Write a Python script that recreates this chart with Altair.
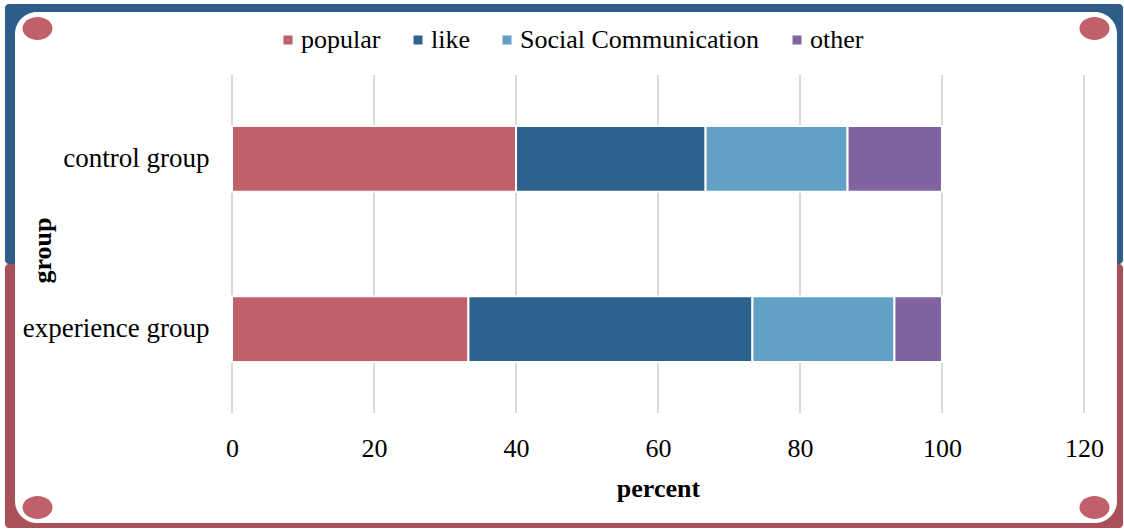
import altair as alt
import pandas as pd

groups = ["control group", "experience group"]
categories = ["popular", "like", "Social Communication", "other"]
colors = ["#C0606A", "#2E6390", "#62A0C5", "#8064A2"]
control_values = [40.0, 26.7, 20.0, 13.3]
experience_values = [33.3, 40.0, 20.0, 6.7]
x_ticks = [0, 20, 40, 60, 80, 100, 120]

rows = []
for g, vals in zip(groups, [control_values, experience_values]):
    for i, (c, v) in enumerate(zip(categories, vals)):
        rows.append({"group": g, "category": c, "value": v, "order": i})
df = pd.DataFrame(rows)
grid_df = pd.DataFrame({"tick": x_ticks})

FONT = "Liberation Serif"
FS = 26
W, H = 852, 338
PL, PT = 232, 75

one = alt.Data(values=[{"k": 1}])

def frame_rect(x0, y0, x1, y1, color, radius):
    return alt.Chart(one).mark_rect(color=color, cornerRadius=radius).encode(
        x=alt.value(x0 - PL), x2=alt.value(x1 - PL),
        y=alt.value(y0 - PT), y2=alt.value(y1 - PT))

blue = frame_rect(5, 4, 1123, 264, "#2D5D88", 4)
red = frame_rect(5, 264, 1123, 528, "#A9505B", 4)
white = frame_rect(15, 12, 1117, 523, "white", 22)

ellipse_path = "M-1,0 A1,0.76 0 1,1 1,0 A1,0.76 0 1,1 -1,0 Z"
dots = []
for cx, cy in [(37.5, 28.5), (1094.5, 28.5), (37.5, 507.5), (1094.5, 507.5)]:
    dots.append(alt.Chart(one).mark_point(
        shape=ellipse_path, filled=True, color="#C0606A", opacity=1,
        size=900, strokeWidth=0).encode(
        x=alt.value(cx - PL), y=alt.value(cy - PT)))

xscale = alt.Scale(domain=[0, 120], nice=False, zero=True)
xaxis = alt.Axis(title="percent", values=x_ticks, grid=False,
                 ticks=False, tickSize=0, domain=False, zindex=1,
                 labelFlush=False, labelOverlap=False,
                 labelFont=FONT, labelFontSize=FS, labelColor="black",
                 labelBaseline="alphabetic", labelPadding=43,
                 titleFont=FONT, titleFontSize=FS, titleFontWeight="bold",
                 titleColor="black", titleBaseline="alphabetic",
                 titleY=83)

grid = alt.Chart(grid_df).mark_rule(color="#D9D9D9", strokeWidth=2).encode(
    x=alt.X("tick:Q", scale=xscale, axis=xaxis, title="percent"))

bars = alt.Chart(df).mark_bar(stroke="white", strokeWidth=2).encode(
    x=alt.X("value:Q", stack="zero", scale=xscale, axis=xaxis, title="percent"),
    y=alt.Y("group:N", sort=groups,
            scale=alt.Scale(paddingInner=0.615, paddingOuter=0.3),
            axis=alt.Axis(title="group", ticks=False, tickSize=0, domain=False,
                          grid=False, zindex=1,
                          labelFont=FONT, labelFontSize=27, labelColor="black",
                          labelPadding=23, labelLimit=0,
                          titleFont=FONT, titleFontSize=FS, titleFontWeight="bold",
                          titleColor="black", titleBaseline="middle",
                          titleX=42 - PL, titleY=250 - PT, titleAngle=270)),
    color=alt.Color("category:N",
                    scale=alt.Scale(domain=categories, range=colors),
                    legend=alt.Legend(title=None, orient="none", direction="horizontal",
                                      legendX=43, legendY=27 - PT,
                                      symbolType="square", symbolSize=81,
                                      symbolStrokeWidth=0,
                                      labelFont=FONT, labelFontSize=FS,
                                      labelColor="black", labelOffset=0,
                                      labelLimit=0, columnPadding=24)),
    order=alt.Order("order:Q"),
)

chart = alt.layer(blue, red, white, *dots, grid, bars).properties(
    width=W, height=H,
    autosize=alt.AutoSizeParams(type="none"),
    padding={"left": PL, "top": PT, "right": 1124 - PL - W, "bottom": 529 - PT - H},
).configure_view(stroke=None)

chart.save("out.html", embed_options={"renderer": "svg", "actions": False})
